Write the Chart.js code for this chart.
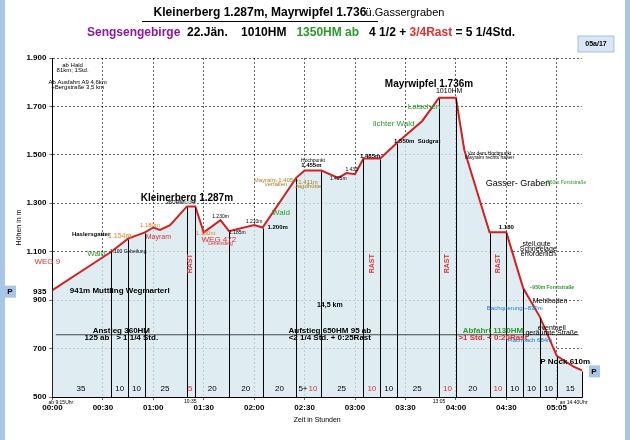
<!DOCTYPE html>
<html><head><meta charset="utf-8">
<script src="https://cdn.jsdelivr.net/npm/chart.js@4"></script>
<style>
body{margin:0;background:#fff;}
#wrap{position:relative;height:440px;width:630px;border-left:5px solid #a9c6e8;border-right:5px solid #a9c6e8;box-sizing:border-box}
</style></head><body>
<div id="wrap"><canvas id="c" width="620" height="440"></canvas></div>
<script>
// minutes since start, elevation
const minutes = [0,35,45,55,60,64,70,80,85,90,100,105,120,125,145,150,160,170,175,180,185,195,205,220,230,240,245,260,270,280,290,300,310,315];
const heights = [941,1100,1154,1180,1200,1190,1210,1287,1287,1180,1230,1185,1210,1200,1405,1435,1435,1405,1425,1420,1485,1485,1550,1640,1736,1736,1520,1180,1180,950,830,670,625,610];
const stops = [35,45,55,80,85,105,125,145,160,185,195,205,230,240,260,270,280,290,300,315];
const durations = [['35',17],['10',40],['10',50],['25',67],['5',82],['20',95],['20',115],['20',135],['5+10',152],['25',172],['10',190],['10',200],['25',217],['10',235],['20',250],['10',265],['10',275],['10',285],['10',295],['15',308]];
const rastMin = [82,190,235,265];
const xTicks = [0,30,60,90,120,150,180,210,240,270,300];
const xTickLabels = ['00:00','00:30','01:00','01:30','02:00','02:30','03:00','03:30','04:00','04:30','05:05'];
const yTicks = [500,700,900,935,1100,1300,1500,1700,1900];
// text notes: [minute, height, text, colour, size, bold]
const notes = [
 [12,1870,'ab Hald','#000',6,false],[12,1850,'81km; 1Std.','#000',6,false],
 [15,1800,'Ab Ausfahrt A9 4,6km','#000',6,false],[15,1780,'+Bergstraße 3,5 km','#000',6,false],
 [-3,1060,'WEG 9','#e03030',8,false],[26,1090,'Wald','#2a9a2a',8,false],
 [23,1170,'Haslersgatter','#000',6,true],[40,1165,'1.154m','#f08020',7,false],
 [58,1210,'1.180m','#f08020',6,false],[63,1160,'Mayram','#e03030',7,false],
 [45,1100,'1.100 Gebeilung','#000',5,false],
 [80,1320,'Kleinerberg 1.287m','#000',10,true],[73,1302,'360HM','#000',6,false],[80,1302,'Sender','#888',6,false],
 [100,1245,'1.230m','#000',5,false],[99,1150,'WEG 472','#e03030',8,false],[100,1133,'Lehensteig','#e03030',5,false],
 [91,1175,'1.180m','#f08020',6,false],[110,1180,'1.185m','#000',5,false],[120,1225,'1.210m','#000',5,false],[134,1200,'1.200m','#000',6,true],
 [136,1260,'Wald','#2a9a2a',8,false],[133,1395,'Mayralm 1.405m','#b08020',6,false],[133,1380,'verfallen','#b08020',6,false],
 [155,1475,'Hochpunkt','#000',5,false],[154,1455,'1.455m','#000',6,true],[152,1385,'1.411m','#b08020',6,false],[152,1370,'Jagdhütte','#b08020',6,false],
 [178,1440,'1.435','#000',5,false],[170,1400,'1.405m','#000',5,false],[189,1495,'1.485m','#000',6,true],
 [217,1555,'1.550m  Südgrat','#000',6,true],[203,1630,'lichter Wald','#2a9a2a',8,false],[221,1700,'Latschen','#2a9a2a',8,false],
 [224,1790,'Mayrwipfel 1.736m','#000',10,true],[236,1765,'1010HM','#000',7,false],
 [260,1505,'Vor dem Hochpunkt','#000',5,false],[260,1490,'Mayralm rechts halten','#000',5,false],
 [277,1380,'Gasser- Graben','#000',9,false],[305,1385,'~960m Forststraße','#2a9a2a',5,false],
 [270,1200,'1.180','#000',6,true],[288,1130,'steil,gute','#000',7,false],[289,1110,'Schneelage','#000',7,false],[289,1090,'erforderlich','#000',7,false],
 [297,950,'~950m Forststraße','#2a9a2a',5,true],[296,895,'Mehlboden','#000',7,false],
 [275,865,'Bachquerung ~830m','#1a7ad0',6,false],[297,785,'eventuell','#000',7,false],[297,765,'geräumte Straße','#000',7,false],
 [284,735,'Flachbach 684m','#1a7ad0',6,false],[305,645,'P Nock 610m','#000',8,true],
 [40,938,'941m Muttling Wegmarterl','#000',8,true],
 [165,880,'14,5 km','#000',7,true],
 [41,772,'Anstieg 360HM','#000',8,true],[41,745,'125 ab   > 1 1/4 Std.','#000',8,true],
 [165,772,'Aufstieg 650HM 95 ab','#000',8,true],[165,745,'<2 1/4 Std. + 0:25Rast','#000',8,true],
 [262,772,'Abfahrt 1130HM','#2a9a2a',8,true],[262,745,'>1 Std. + 0:20Rast','#e03030',8,true]
];
const data = {
  datasets:[{
    data: minutes.map((m,i)=>({x:m,y:heights[i]})),
    borderColor:'#d42020', borderWidth:2, pointRadius:0, tension:0,
    fill:'origin', backgroundColor:'rgba(215,232,240,0.8)'
  }]
};
const extras = {
  id:'extras',
  afterDatasetsDraw(chart){
    const {ctx, scales:{x,y}} = chart;
    ctx.save(); ctx.strokeStyle='#000'; ctx.lineWidth=1;
    stops.forEach(m=>{
      const i = minutes.indexOf(m);
      const px = Math.round(x.getPixelForValue(m))+0.5;
      ctx.beginPath(); ctx.moveTo(px,y.getPixelForValue(500)); ctx.lineTo(px,y.getPixelForValue(heights[i])+1); ctx.stroke();
    });
    ctx.lineWidth=0.7;
    ctx.beginPath(); ctx.moveTo(x.getPixelForValue(2),y.getPixelForValue(757)); ctx.lineTo(x.getPixelForValue(313),y.getPixelForValue(757)); ctx.stroke();
    ctx.textAlign='center'; ctx.textBaseline='middle';
    durations.forEach(([t,m])=>{
      ctx.font='8px Arial';
      if (t==='5+10'){ctx.fillStyle='#000';ctx.fillText('5+',x.getPixelForValue(m)-5,y.getPixelForValue(535));ctx.fillStyle='#e03030';ctx.fillText('10',x.getPixelForValue(m)+5,y.getPixelForValue(535));return;}
      ctx.fillStyle = (m===82)||([190,235,265].includes(m))?'#e03030':'#000';
      ctx.fillText(t,x.getPixelForValue(m),y.getPixelForValue(535));
    });
    rastMin.forEach(m=>{
      ctx.save(); ctx.translate(x.getPixelForValue(m),y.getPixelForValue(1050)); ctx.rotate(-Math.PI/2);
      ctx.font='bold 7px Arial'; ctx.fillStyle='#e03030'; ctx.fillText('RAST',0,0); ctx.restore();
    });
    notes.forEach(([m,h,t,c,s,b])=>{
      ctx.font=(b?'bold ':'')+s+'px Arial'; ctx.fillStyle=c;
      ctx.fillText(t,x.getPixelForValue(m),y.getPixelForValue(h));
    });
    // titles
    ctx.fillStyle='#000'; ctx.font='bold 12px Arial';
    ctx.fillText('Kleinerberg 1.287m, Mayrwipfel 1.736',255,13);
    ctx.font='11px Arial'; ctx.fillText('ü.Gassergraben',400,13);
    ctx.fillRect(137,21,236,1);
    ctx.textAlign='left'; ctx.font='bold 12px Arial';
    let xx=82; const parts=[['Sengsengebirge','#8a1a9a'],['  22.Jän.    1010HM   ','#000'],['1350HM ab','#2a9a2a'],['   4 1/2 + ','#000'],['3/4Rast','#e03030'],[' = 5 1/4Std.','#000']];
    parts.forEach(([t,c])=>{ctx.fillStyle=c;ctx.fillText(t,xx,33);xx+=ctx.measureText(t).width;});
    ctx.fillStyle='#d8e6f5'; ctx.fillRect(573,36,36,16); ctx.strokeStyle='#8aa8cc'; ctx.strokeRect(573,36,36,16);
    ctx.fillStyle='#000'; ctx.font='bold 7px Arial'; ctx.textAlign='center'; ctx.fillText('05a/17',591,44);
    ctx.fillStyle='#a9c6e8'; ctx.fillRect(0,y.getPixelForValue(935)-6,11,12);ctx.fillRect(x.right+7,y.getPixelForValue(610)-5,11,12);
    ctx.fillStyle='#000'; ctx.font='bold 8px Arial';ctx.fillText('P',5,y.getPixelForValue(935));ctx.fillText('P',x.right+12,y.getPixelForValue(610)+1);
    ctx.font='5px Arial'; ctx.fillText('ab 9:15Uhr',x.getPixelForValue(5),y.bottom+6);ctx.fillText('10:35',x.getPixelForValue(82),y.bottom+5);
    ctx.fillText('13:05',x.getPixelForValue(230),y.bottom+5);ctx.fillText('an 14:40Uhr',x.getPixelForValue(310),y.bottom+6);
    ctx.restore();
  }
};
new Chart(document.getElementById('c'),{
  type:'line', data,
  options:{
    responsive:false, animation:false,
    layout:{padding:{top:58,right:43,left:10,bottom:16}},
    plugins:{legend:{display:false},tooltip:{enabled:false}},
    scales:{
      x:{type:'linear',min:0,max:315,
        afterBuildTicks(s){s.ticks=xTicks.map(v=>({value:v}));},
        ticks:{autoSkip:false,maxRotation:0,font:{size:8,weight:'bold'},color:'#000',callback:(v)=>xTickLabels[xTicks.indexOf(v)]},
        grid:{color:'#000',lineWidth:0.6,tickLength:3},border:{dash:[2,2],display:true,color:'#000'},
        title:{display:true,text:'Zeit in Stunden',font:{size:7},color:'#000',padding:0}},
      y:{min:500,max:1900,
        afterBuildTicks(s){s.ticks=yTicks.map(v=>({value:v}));},
        ticks:{autoSkip:false,font:{size:8,weight:'bold'},color:'#000',callback:(v)=>v===500||v===700||v===900||v===935?String(v):(v/1000).toFixed(3)},
        grid:{color:(c)=>c.tick&&c.tick.value===935?'rgba(0,0,0,0)':'#000',lineWidth:0.6,tickLength:3},border:{dash:[2,2],color:'#000'},
        title:{display:true,text:'Höhen in m',font:{size:7},color:'#000',padding:0}}
    }
  },
  plugins:[extras]
});
</script>
</body></html>
